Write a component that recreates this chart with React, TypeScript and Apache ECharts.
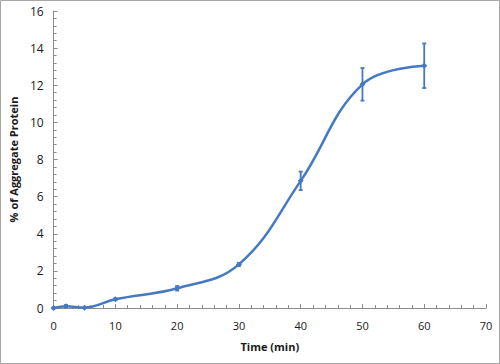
import React, { useEffect, useRef } from "react";
import * as echarts from "echarts";

const times = [0, 2, 5, 10, 20, 30, 40, 50, 60];
const aggregate = [0, 0.1, 0.02, 0.47, 1.06, 2.35, 6.85, 12.05, 13.05];
const errors = [0.02, 0.06, 0.02, 0.05, 0.12, 0.08, 0.5, 0.88, 1.2];
const xTitle = "Time (min)";
const yTitle = "% of Aggregate Protein";

const BLUE = "#4579C2";
const FONT = "'Open Sans', 'Noto Sans', sans-serif";

export default function App() {
  const ref = useRef<HTMLDivElement>(null);
  useEffect(() => {
    if (!ref.current) return;
    const chart = echarts.init(ref.current, undefined, { renderer: "svg" });
    const lineData = times.map((t, i) => [t, aggregate[i]]);
    const errData = times.map((t, i) => [t, aggregate[i] - errors[i], aggregate[i] + errors[i]]);
    chart.setOption({
      animation: false,
      backgroundColor: "#fff",
      grid: { left: 51, right: 14, top: 11, bottom: 56 },
      graphic: [
        {
          type: "rect",
          shape: { x: 0.5, y: 0.5, width: 499, height: 363 },
          style: { fill: "none", stroke: "#a6a6a6", lineWidth: 1 },
          silent: true,
        },
      ],
      xAxis: {
        type: "value",
        min: 0,
        max: 70,
        interval: 10,
        name: xTitle,
        nameLocation: "middle",
        nameGap: 33,
        nameTextStyle: { fontFamily: FONT, fontSize: 11, fontWeight: "bold", color: "#1a1a1a" },
        axisLine: { lineStyle: { color: "#8c8c8c", width: 1 } },
        axisTick: { inside: true, length: 4, lineStyle: { color: "#8c8c8c" } },
        minorTick: { show: true, splitNumber: 5, length: 3, lineStyle: { color: "#8c8c8c" } },
        axisLabel: { fontFamily: FONT, fontSize: 11, color: "#1a1a1a", margin: 12 },
        splitLine: { show: false },
      },
      yAxis: {
        type: "value",
        min: 0,
        max: 16,
        interval: 2,
        name: yTitle,
        nameLocation: "middle",
        nameGap: 30,
        nameTextStyle: { fontFamily: FONT, fontSize: 11, fontWeight: "bold", color: "#1a1a1a" },
        axisLine: { show: true, lineStyle: { color: "#8c8c8c", width: 1 } },
        axisTick: { show: true, inside: true, length: 4, lineStyle: { color: "#8c8c8c" } },
        minorTick: { show: true, splitNumber: 5, length: 3, lineStyle: { color: "#8c8c8c" } },
        axisLabel: { fontFamily: FONT, fontSize: 12, color: "#1a1a1a", margin: 10 },
        splitLine: { show: false },
      },
      series: [
        {
          type: "line",
          data: lineData,
          smooth: 0.4,
          symbol: "diamond",
          symbolSize: 6,
          lineStyle: { color: BLUE, width: 2.5 },
          itemStyle: { color: BLUE },
          z: 3,
        },
        {
          type: "custom",
          data: errData,
          z: 4,
          renderItem: (params: any, api: any) => {
            const x = api.value(0);
            const lo = api.coord([x, api.value(1)]);
            const hi = api.coord([x, api.value(2)]);
            const cap = 2;
            const style = { stroke: BLUE, lineWidth: 1.8 };
            return {
              type: "group",
              children: [
                { type: "line", shape: { x1: lo[0], y1: lo[1], x2: hi[0], y2: hi[1] }, style },
                { type: "line", shape: { x1: lo[0] - cap, y1: lo[1], x2: lo[0] + cap, y2: lo[1] }, style },
                { type: "line", shape: { x1: hi[0] - cap, y1: hi[1], x2: hi[0] + cap, y2: hi[1] }, style },
              ],
            };
          },
        },
      ],
    });
    return () => chart.dispose();
  }, []);
  return (
    <div
      ref={ref}
      style={{ position: "fixed", left: 0, top: 0, width: 500, height: 364 }}
    />
  );
}
